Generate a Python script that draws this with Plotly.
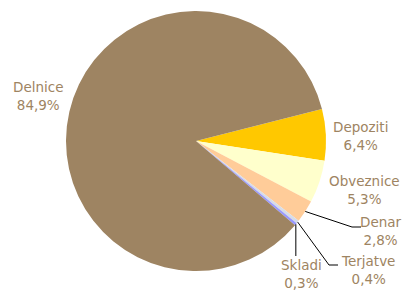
import math
import plotly.graph_objects as go

labels = ["Depoziti", "Obveznice", "Denar", "Terjatve", "Skladi", "Delnice"]
values = [6.4, 5.3, 2.8, 0.4, 0.3, 84.9]
colors = ["#FFC800", "#FFFFCC", "#FFCC99", "#D6DCE8", "#9999FF", "#9E8462"]

W, H = 405, 292
CX, CY, R = 196, 141, 130
ROT = 75.7
TEXT_COLOR = "#9E8462"

# label anchor (pixel) and leader-line elbow, per label
label_pos = {
    "Depoziti": (360, 136, None),
    "Obveznice": (364, 190, None),
    "Denar": (381, 231, (352, 227, 361)),
    "Terjatve": (368, 270, (329, 265, 338)),
    "Skladi": (301, 274, (None, 256, None)),
    "Delnice": (38, 96, None),
}

fig = go.Figure(go.Pie(
    labels=labels, values=values, sort=False, direction="clockwise",
    rotation=ROT, marker=dict(colors=colors, line=dict(width=0)),
    textinfo="none", hoverinfo="label+percent", showlegend=False,
    domain=dict(x=[(CX - R) / W, (CX + R) / W], y=[1 - (CY + R) / H, 1 - (CY - R) / H]),
))

def px(x):
    return x / W

def py(y):
    return 1 - y / H

total = sum(values)
cum = 0
annotations = []
shapes = []
for lab, v in zip(labels, values):
    mid = ROT + 360 * (cum + v / 2) / total
    cum += v
    ex = CX + R * math.sin(math.radians(mid))
    ey = CY - R * math.cos(math.radians(mid))
    tx, ty, elbow = label_pos[lab]
    annotations.append(dict(
        x=px(tx), y=py(ty), xref="paper", yref="paper", showarrow=False,
        text=f"{lab}<br>{v:.1f}%".replace(".", ","),
        font=dict(family="DejaVu Sans", size=13.5, color=TEXT_COLOR),
        align="center", xanchor="center", yanchor="middle",
    ))
    if elbow:
        bx, by, hx = elbow
        if bx is None:
            path = f"M {px(ex)} {py(ey)} L {px(ex)} {py(by)}"
        else:
            path = f"M {px(ex)} {py(ey)} L {px(bx)} {py(by)} L {px(hx)} {py(by)}"
        shapes.append(dict(type="path", xref="paper", yref="paper", path=path,
                           line=dict(color="black", width=1)))

fig.update_layout(
    width=W, height=H, margin=dict(l=0, r=0, t=0, b=0),
    paper_bgcolor="white", plot_bgcolor="white",
    annotations=annotations, shapes=shapes,
)
fig.write_html("out.html", config={"displayModeBar": False},
               post_script="document.body.style.margin='0';")
